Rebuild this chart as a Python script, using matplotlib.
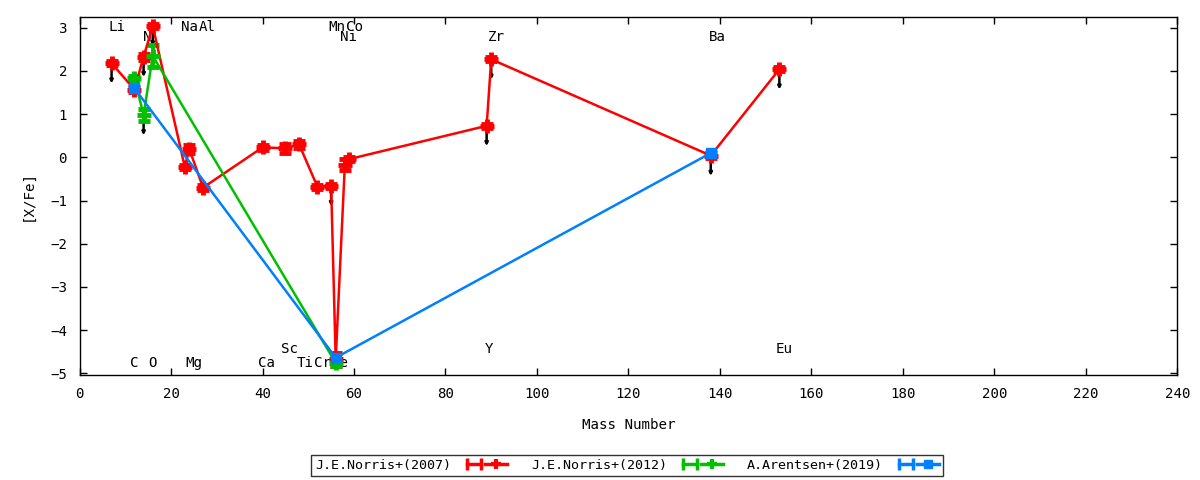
import matplotlib
matplotlib.use('Agg')
import matplotlib.pyplot as plt
from matplotlib.lines import Line2D
from matplotlib.legend_handler import HandlerLine2D, HandlerTuple

plt.rcParams['font.family'] = ['DejaVu Sans Mono', 'DejaVu Sans']
plt.rcParams['font.size'] = 9.6

# ---------------- data ----------------
red_label = "J.E.Norris+(2007)"
red_mass = [7, 12, 14, 16, 23, 24, 27, 40, 45, 48, 52, 55, 56, 58, 59, 89, 90, 138, 153]
red_val = [2.18, 1.57, 2.33, 3.04, -0.22, 0.19, -0.70, 0.23, 0.21, 0.30, -0.68, -0.66,
           -4.68, -0.17, -0.04, 0.73, 2.27, 0.04, 2.04]
red_err = [0.05, 0.05, 0.07, 0.05, 0.05, 0.10, 0.05, 0.05, 0.10, 0.08, 0.05, 0.05,
           0.15, 0.12, 0.05, 0.05, 0.05, 0.05, 0.05]
red_ul = [1, 0, 1, 1, 0, 0, 0, 0, 0, 0, 0, 1, 0, 0, 0, 1, 1, 1, 1]

green_label = "J.E.Norris+(2012)"
green_mass = [12, 14, 16, 56]
green_val = [1.83, 0.98, 2.35, -4.76]
green_err = [0.05, 0.15, 0.25, 0.08]
green_ul = [0, 1, 0, 0]

blue_label = "A.Arentsen+(2019)"
blue_mass = [12, 56, 138]
blue_val = [1.60, -4.64, 0.10]
blue_err = [0.05, 0.08, 0.05]

# element labels: (text, x position, y position)
elem_names = ["Li", "N", "Na", "Al", "Mn", "Co", "Ni", "Zr", "Ba",
              "C", "O", "Mg", "Ca", "Sc", "Ti", "Cr", "Fe", "Y", "Eu"]
elem_x = [8.1, 14.9, 24.1, 27.9, 56.3, 60.1, 58.9, 91.1, 139.5,
          12.0, 16.0, 25.0, 40.9, 46.0, 49.3, 53.2, 56.9, 89.5, 154.1]
elem_y = [3.02, 2.79, 3.02, 3.02, 3.02, 3.02, 2.79, 2.79, 2.79,
          -4.76, -4.76, -4.76, -4.76, -4.44, -4.76, -4.76, -4.76, -4.44, -4.44]

x_ticks = list(range(0, 241, 20))
y_ticks = [-5, -4, -3, -2, -1, 0, 1, 2, 3]

RED = '#ff0000'
GREEN = '#00c000'
BLUE = '#0080ff'
FS = 9.6
FS2 = 10.2

fig = plt.figure(figsize=(12, 4.8), dpi=100)
ax = fig.add_axes([0.0663, 0.2188, 0.9148, 0.7458])

# element labels (behind data)
for n, x, y in zip(elem_names, elem_x, elem_y):
    ax.text(x, y, n, ha='center', va='center', fontsize=FS2, zorder=1)

def draw(mass, val, err, color, marker, ms, mew):
    ax.errorbar(mass, val, yerr=err, color=color, lw=1.8, marker=marker, ms=ms,
                mew=mew, capsize=4, capthick=3, elinewidth=2.8, zorder=3)

def arrows(mass, val, flags):
    for m, v, f in zip(mass, val, flags):
        if f:
            ax.annotate('', xy=(m, v - 0.47), xytext=(m, v),
                        arrowprops=dict(arrowstyle='-|>', color='black', lw=1.8,
                                        mutation_scale=4, shrinkA=0, shrinkB=0),
                        zorder=2.5)

draw(red_mass, red_val, red_err, RED, '+', 10, 3.5)
arrows(red_mass, red_val, red_ul)
draw(green_mass, green_val, green_err, GREEN, '+', 10, 3.5)
arrows(green_mass, green_val, green_ul)
draw(blue_mass, blue_val, blue_err, BLUE, 's', 7, 1)

ax.set_xlim(0, 240)
ax.set_ylim(-5.04, 3.25)
ax.set_xticks(x_ticks)
ax.set_yticks(y_ticks)
ax.tick_params(direction='in', top=True, right=True, length=5, width=1,
               labelsize=FS2)
ax.tick_params(axis='x', pad=9)
ax.tick_params(axis='y', pad=9)
for s in ax.spines.values():
    s.set_linewidth(1)

ax.set_xlabel('Mass Number', fontsize=FS2, labelpad=12)
ax.set_ylabel('[X/Fe]', fontsize=FS2, labelpad=11)

# gnuplot-like legend handles
handles = []
hmap = {}
for col, mk, ms, mew in [(RED, '+', 7, 3), (GREEN, '+', 7, 3), (BLUE, 's', 6, 1)]:
    caps = Line2D([], [], color=col, lw=2.5, marker='|', ms=9, mew=2.5)
    centre = Line2D([], [], color=col, lw=2.5, marker=mk, ms=ms, mew=mew)
    handles.append((caps, centre))
    hmap[caps] = HandlerLine2D(numpoints=2)
    hmap[centre] = HandlerLine2D(numpoints=1)

leg = fig.legend(handles, [red_label, green_label, blue_label],
                 handler_map={tuple: HandlerTuple(ndivide=None, pad=0), **hmap},
                 ncol=3, loc='center', bbox_to_anchor=(0.5225, 0.031),
                 markerfirst=False, frameon=True, fancybox=False, fontsize=FS,
                 handlelength=3.3, handletextpad=0.9, columnspacing=1.8,
                 borderpad=0.3, borderaxespad=0)
leg.get_frame().set_edgecolor('black')
leg.get_frame().set_linewidth(1)

fig.savefig('out.png', dpi=100)
